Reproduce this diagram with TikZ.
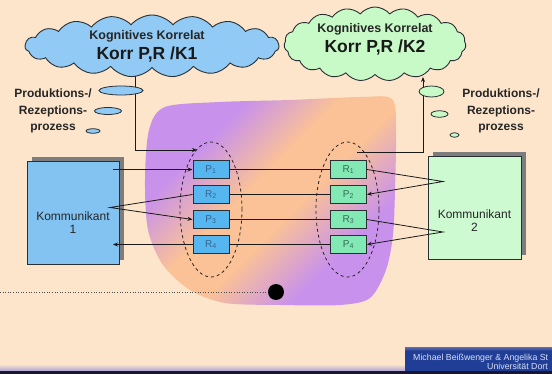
\documentclass[tikz,border=0pt]{standalone}
\usepackage{fontspec}
\setmainfont{Liberation Sans}
\usetikzlibrary{shapes.symbols,shapes.geometric,arrows.meta,shadows}
\definecolor{bg}{RGB}{253,229,204}
\definecolor{purp}{RGB}{200,145,236}
\definecolor{orng}{RGB}{250,194,150}
\definecolor{cblue}{RGB}{145,202,245}
\definecolor{cgreen}{RGB}{200,250,200}
\definecolor{kblue}{RGB}{130,195,242}
\definecolor{kgreen}{RGB}{205,250,208}
\definecolor{sblue}{RGB}{85,182,240}
\definecolor{sgreen}{RGB}{130,232,180}
\definecolor{sbluetext}{RGB}{55,100,140}
\definecolor{sgreentext}{RGB}{55,110,85}
\definecolor{edgeC}{RGB}{40,48,52}
\definecolor{lineC}{RGB}{25,25,25}
\definecolor{shadowC}{RGB}{125,125,125}
\definecolor{fblue}{RGB}{32,62,150}
\definecolor{ftext}{RGB}{215,222,245}
\definecolor{barC}{RGB}{25,22,45}
\definecolor{barL}{RGB}{175,165,215}
\pgfdeclareverticalshading{blobshade}{100bp}{color(0bp)=(purp); color(31bp)=(purp); color(45bp)=(orng); color(55bp)=(orng); color(69bp)=(purp); color(100bp)=(purp)}
\begin{document}
\begin{tikzpicture}[x=1pt,y=-1pt,
  conn/.style={draw=lineC, line width=0.8pt, -{Stealth[length=5pt,width=4pt]}},
  plain/.style={draw=lineC, line width=0.8pt},
  sbox/.style={draw=edgeC, line width=1pt, minimum width=36pt, minimum height=18pt, inner sep=0pt, font=\fontsize{10}{12}\selectfont},
  lbox/.style={sbox, fill=sblue, text=sbluetext},
  rbox/.style={sbox, fill=sgreen, text=sgreentext},
  kbox/.style={draw=edgeC, line width=1pt, minimum width=92pt, minimum height=103pt, inner sep=0pt,
    general shadow={fill=shadowC, shadow xshift=5pt, shadow yshift=5pt}},
  ktext/.style={align=center, font=\fontsize{12}{13}\selectfont, text=black!85},
  bubble/.style={ellipse, draw=edgeC, line width=0.8pt, inner sep=0pt},
  dashell/.style={ellipse, draw=black!85, dashed, line width=0.8pt, inner sep=0pt, minimum width=62pt, minimum height=135pt},
  cloudbox/.style={cloud, cloud puffs=19, cloud puff arc=100, cloud ignores aspect, draw=edgeC, line width=0.9pt, inner sep=0pt},
  ctitle/.style={font=\bfseries\fontsize{12.5}{14}\selectfont, text=black!85},
  cmain/.style={font=\bfseries\fontsize{17.5}{20}\selectfont, text=black!90},
  proc/.style={font=\bfseries\fontsize{12}{16.5}\selectfont, align=center, text=black!85},
  foot/.style={font=\fontsize{8.8}{10}\selectfont, text=ftext, anchor=west, inner sep=0pt}
]
\useasboundingbox (0,0) rectangle (552,374);
\clip (0,0) rectangle (552,374);
\fill[bg] (0,0) rectangle (552,374);

% coloured blob
\path[shading=blobshade, shading angle=45]
  plot[smooth cycle, tension=0.5] coordinates {
  (165,107) (220,102) (290,100) (360,97) (392,99) (396,130) (395,190) (393,235)
  (386,270) (370,298) (340,305) (280,305) (225,303) (190,290) (163,265)
  (148,230) (145,180) (149,130)};

% connectors from the clouds
\coordinate (c1foot) at (135,74);
\coordinate (e1tip) at (197,150);
\coordinate (c2foot) at (423,77);
\coordinate (e2top) at (357,152);
\draw[conn] (c1foot) |- (e1tip);
\draw[conn] (e2top) -| (c2foot);

% clouds
\node[cloudbox, fill=cblue, minimum width=254pt, minimum height=62pt] (cl1) at (152,46) {};
\node[cloudbox, fill=cgreen, minimum width=182pt, minimum height=74pt] (cl2) at (375,44) {};
\node[ctitle] (t1a) at (147,36) {Kognitives Korrelat};
\node[cmain] (t1b) at (147,55) {Korr P,R /K1};
\node[ctitle] (t2a) at (375,29) {Kognitives Korrelat};
\node[cmain] (t2b) at (375,48) {Korr P,R /K2};

% thought bubbles
\node[bubble, fill=cblue, minimum width=44pt, minimum height=9pt] (b1) at (121,90.5) {};
\node[bubble, fill=cblue, minimum width=27pt, minimum height=7pt] (b2) at (108,111) {};
\node[bubble, fill=cblue, minimum width=14pt, minimum height=4.5pt] (b3) at (93,131) {};
\node[bubble, fill=cgreen, minimum width=25pt, minimum height=11pt] (b4) at (431.5,91.5) {};
\node[bubble, fill=cgreen, minimum width=17pt, minimum height=6.5pt] (b5) at (439.5,114) {};
\node[bubble, fill=cgreen, minimum width=9pt, minimum height=4.5pt] (b6) at (454.5,135) {};

\node[proc] (pl) at (53,111) {Produktions-/\\Rezeptions-\\prozess};
\node[proc] (pr) at (501,111) {Produktions-/\\Rezeptions-\\prozess};

% Kommunikanten
\node[kbox, fill=kblue] (k1) at (73,213.5) {};
\node[kbox, fill=kgreen, minimum width=93pt] (k2) at (474.5,208.5) {};
\node[ktext] (k1t) at (73,223) {Kommunikant\\1};
\node[ktext] (k2t) at (474.5,221) {Kommunikant\\2};

% small boxes
\node[lbox] (p1) at (211,169.5) {P\textsubscript{1}};
\node[lbox] (r2) at (211,194.5) {R\textsubscript{2}};
\node[lbox] (p3) at (211,219.5) {P\textsubscript{3}};
\node[lbox] (r4) at (211,244.5) {R\textsubscript{4}};
\node[rbox] (r1) at (348.5,169.5) {R\textsubscript{1}};
\node[rbox] (p2) at (348.5,194.5) {P\textsubscript{2}};
\node[rbox] (r3) at (348.5,219.5) {R\textsubscript{3}};
\node[rbox] (p4) at (348.5,244.5) {P\textsubscript{4}};

% dashed groups
\node[dashell] (e1) at (211,209.5) {};
\node[dashell, minimum width=63pt] (e2) at (347.5,209.5) {};

% message connectors
\coordinate (a1) at (113,169.5);
\coordinate (a4) at (113,244.5);
\coordinate (v1) at (110,207.5);
\coordinate (v2) at (443,181.5);
\coordinate (v3) at (443,232);
\draw[conn] (a1) -- (p1.west);
\draw[plain] (p1.east) -- (r1.west);
\draw[conn] (r1.east) -- (v2) -- (p2.east);
\draw[plain] (p2.west) -- (r2.east);
\draw[conn] (r2.west) -- (v1) -- (p3.west);
\draw[plain] (p3.east) -- (r3.west);
\draw[conn] (r3.east) -- (v3) -- (p4.east);
\draw[plain] (p4.west) -- (r4.east);
\draw[conn] (r4.west) -- (a4);

% dotted line and dot
\node[circle, fill=black, minimum size=16pt, inner sep=0pt] (dot) at (276,292) {};
\coordinate (dl) at (0,292);
\draw[dotted, line width=0.6pt, black!70] (dl) -- (dot.west);

% footer
\shade[top color=bg, bottom color=barL] (0,364) rectangle (552,371);
\fill[barC] (0,371) rectangle (552,374);
\shade[top color=fblue!55!barL, bottom color=fblue] (405,347) rectangle (552,351);
\fill[fblue] (405,351) rectangle (552,371);
\node[foot] (f1) at (413,358) {Michael Beißwenger \& Angelika St};
\node[foot] (f2) at (487,366.5) {Universität Dort};
\end{tikzpicture}
\end{document}
